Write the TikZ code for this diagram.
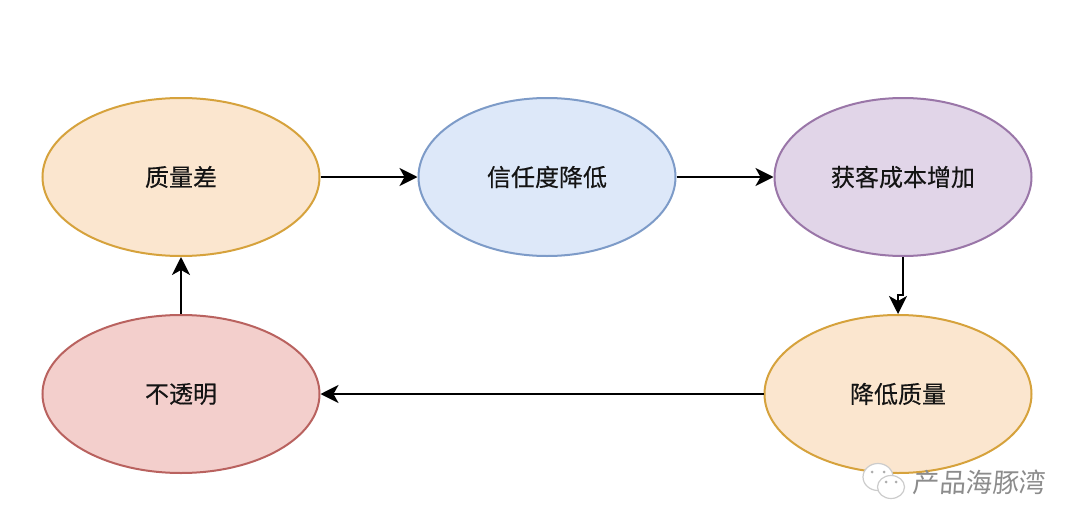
\documentclass[tikz,border=0pt]{standalone}
\usepackage{fontspec}
\setmainfont[FakeBold=0.25]{Noto Sans CJK SC}
\newfontfamily\markfont[FakeSlant=0.08]{Noto Sans CJK SC}
\usetikzlibrary{shapes.geometric,arrows.meta}
\definecolor{orangefill}{HTML}{FBE6CF}
\definecolor{orangeline}{HTML}{D6A23C}
\definecolor{bluefill}{HTML}{DDE8F9}
\definecolor{blueline}{HTML}{7D9BC8}
\definecolor{purplefill}{HTML}{E1D5E8}
\definecolor{purpleline}{HTML}{9A76A8}
\definecolor{redfill}{HTML}{F3CFCC}
\definecolor{redline}{HTML}{B9625F}
\tikzset{
  state/.style={ellipse,draw,line width=2pt,inner sep=0pt,minimum height=158pt,font=\fontsize{24pt}{28pt}\selectfont,text=black!92},
  link/.style={draw=black,line width=2pt,-{Stealth[length=18pt,width=18pt,inset=5pt]}},
  wechat/.style={draw=black!20,fill=white,line width=1.2pt},
  eye/.style={fill=black!32,circle,inner sep=0pt,minimum size=3pt}
}
\begin{document}
\begin{tikzpicture}[x=1pt,y=-1pt]
\useasboundingbox[fill=white] (0,0) rectangle (1080,530);
\node[state,fill=orangefill,draw=orangeline,minimum width=277pt] (q) at (181,177) {质量差};
\node[state,fill=bluefill,draw=blueline,minimum width=257pt] (t) at (547,177) {信任度降低};
\node[state,fill=purplefill,draw=purpleline,minimum width=257pt] (c) at (903,177) {获客成本增加};
\node[state,fill=orangefill,draw=orangeline,minimum width=267pt] (l) at (898,394) {降低质量};
\node[state,fill=redfill,draw=redline,minimum width=277pt] (o) at (181,394) {不透明};
\coordinate (jog) at (900,295);
\draw[link] (q) -- (t);
\draw[link] (t) -- (c);
\draw[link] (c.south) -- (c.south |- jog) -- (l.north |- jog) -- (l.north);
\draw[link] (l) -- (o);
\draw[link] (o) -- (q);
% watermark
\node[wechat,ellipse,minimum width=30pt,minimum height=27pt,inner sep=0pt] (wa) at (878,477) {};
\node[eye] (wa1) at (872,472) {};
\node[eye] (wa2) at (884,472) {};
\node[wechat,ellipse,minimum width=27pt,minimum height=23pt,inner sep=0pt] (wb) at (891,487) {};
\node[eye] (wb1) at (886,482) {};
\node[eye] (wb2) at (896,482) {};
\node[font=\markfont\fontsize{26.5pt}{30pt}\selectfont,text=black!45,inner sep=0pt] (w) at (979,482) {产品海豚湾};
\end{tikzpicture}
\end{document}
